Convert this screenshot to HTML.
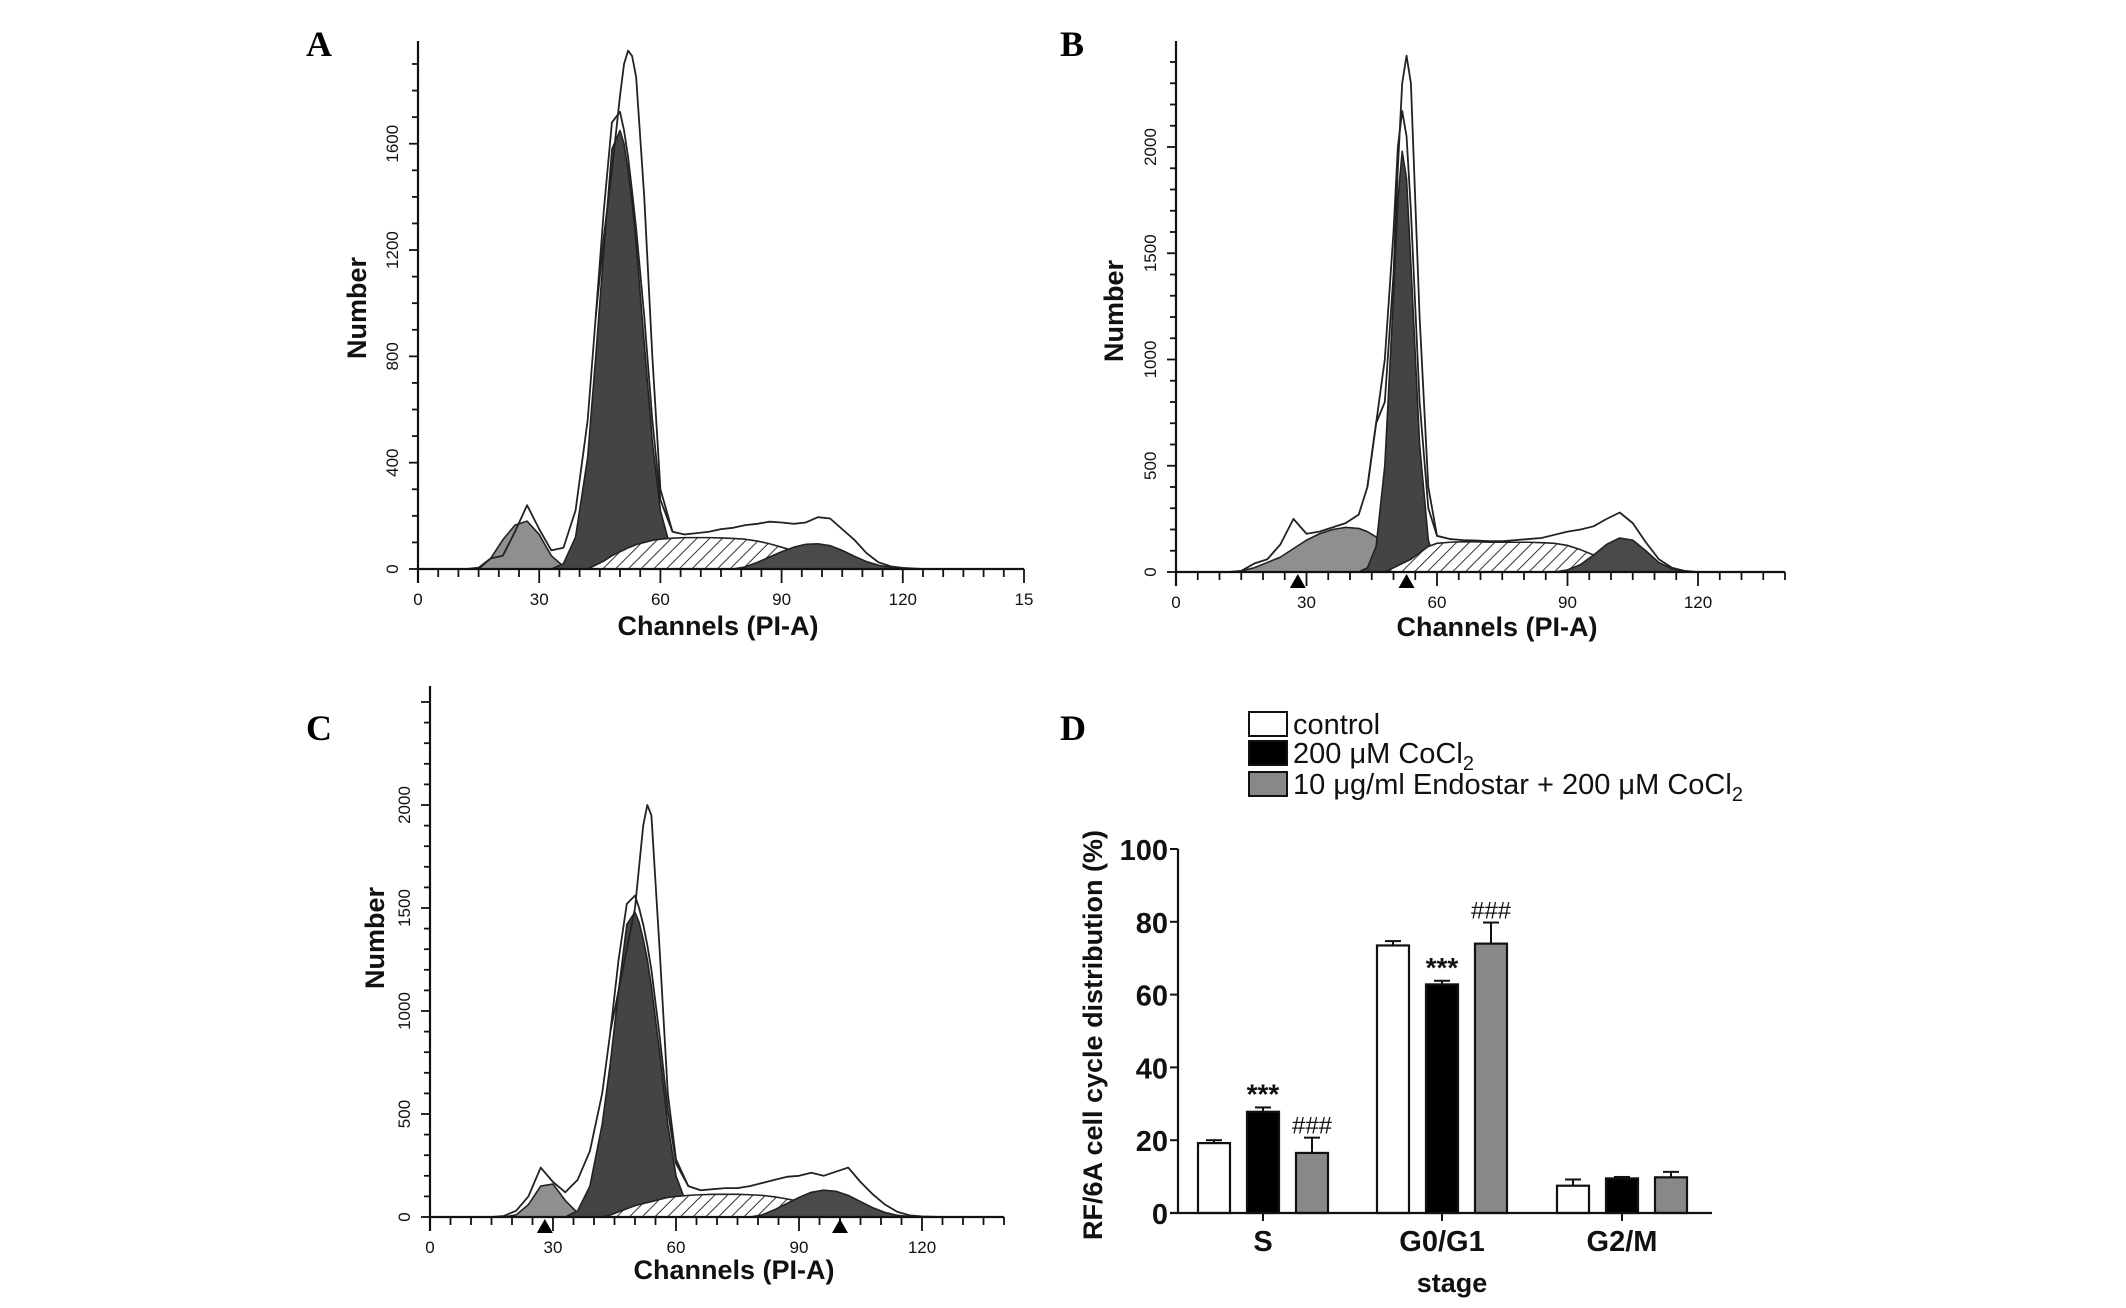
<!DOCTYPE html>
<html><head><meta charset="utf-8">
<style>
html,body{margin:0;padding:0;background:#fff;}
svg{display:block;}
text{font-family:"Liberation Sans",sans-serif;}
.lbl{font-family:"Liberation Serif",serif;font-weight:bold;font-size:36px;}
.tk{font-size:17px;fill:#111;}
.axt{font-weight:bold;font-size:27px;fill:#111;}
.dt{font-family:"Liberation Sans Narrow","Liberation Sans",sans-serif;font-weight:bold;font-size:29px;fill:#111;}
.lg{font-family:"Liberation Sans Narrow","Liberation Sans",sans-serif;font-size:29px;fill:#111;}
</style></head>
<body>
<svg id="fig" width="2126" height="1308" viewBox="0 0 2126 1308" xmlns="http://www.w3.org/2000/svg">
<defs>
<pattern id="hatch" patternUnits="userSpaceOnUse" width="9" height="9" patternTransform="rotate(45)">
<rect width="9" height="9" fill="#fff"/><line x1="0" y1="0" x2="0" y2="9" stroke="#333" stroke-width="2"/>
</pattern>
</defs>
<text class="lbl" x="306" y="56">A</text>
<text class="lbl" x="1060" y="56">B</text>
<text class="lbl" x="306" y="740">C</text>
<text class="lbl" x="1060" y="740">D</text>
<g id="pa"></g>
<g id="pb"></g>
<g id="pc"></g>
<g id="pd"></g>
</svg>
<script>
// shared channel grid
const channels = [12,15,18,21,24,27,30,33,36,39,42,44,46,48,50,51,52,53,54,56,58,60,63,66,69,72,75,78,81,84,87,90,93,96,99,102,105,108,111,114,117,120,125];
const peakChannels = [44,46,48,50,51,52,53,54,56,58,60,63];

// Panel A
const apoA = [0,0,40,110,165,180,130,50,10,0,0,0,0,0,0,0,0,0,0,0,0,0,0,0,0,0,0,0,0,0,0,0,0,0,0,0,0,0,0,0,0,0,0];
const g1A  = [0,0,0,0,0,0,0,0,20,120,420,800,1200,1580,1650,1600,1500,1380,1220,850,480,220,50,5,0,0,0,0,0,0,0,0,0,0,0,0,0,0,0,0,0,0,0];
const sA   = [0,0,0,0,0,0,0,0,0,0,0,15,30,50,65,72,80,85,92,100,108,112,116,118,118,118,117,115,112,105,95,82,68,52,38,25,14,6,2,0,0,0,0];
const g2A  = [0,0,0,0,0,0,0,0,0,0,0,0,0,0,0,0,0,0,0,0,0,0,0,0,0,0,0,0,8,25,45,65,82,93,95,88,70,48,28,14,6,2,0];
const outA = [0,5,40,50,140,240,150,70,80,220,560,950,1350,1680,1720,1650,1550,1420,1280,950,560,260,140,130,135,140,150,155,165,170,178,175,170,175,195,190,150,110,60,25,10,4,0];
const peakA = [950,1250,1500,1780,1900,1950,1930,1850,1400,800,300,140];

// Panel B
const apoB = [0,5,20,45,70,110,150,180,200,210,205,190,165,130,100,85,70,60,50,35,22,12,4,0,0,0,0,0,0,0,0,0,0,0,0,0,0,0,0,0,0,0,0];
const g1B  = [0,0,0,0,0,0,0,0,0,0,0,20,120,500,1300,1750,1980,1850,1450,600,150,20,0,0,0,0,0,0,0,0,0,0,0,0,0,0,0,0,0,0,0,0,0];
const sB   = [0,0,0,0,0,0,0,0,0,0,0,0,0,0,20,30,40,50,60,90,120,135,140,142,142,140,140,140,140,138,135,125,105,80,55,35,18,8,2,0,0,0,0];
const g2B  = [0,0,0,0,0,0,0,0,0,0,0,0,0,0,0,0,0,0,0,0,0,0,0,0,0,0,0,0,0,0,0,10,35,80,130,160,150,100,45,15,3,0,0];
const outB = [0,5,40,60,130,250,180,190,210,230,270,400,700,1000,1600,2000,2170,2050,1700,800,300,170,155,150,148,145,145,150,155,160,175,190,200,215,250,280,230,140,60,20,5,0,0];
const peakB = [400,700,800,1400,1900,2300,2430,2300,1200,400,170,155];

// Panel C
const apoC = [0,0,0,10,60,150,160,80,20,0,0,0,0,0,0,0,0,0,0,0,0,0,0,0,0,0,0,0,0,0,0,0,0,0,0,0,0,0,0,0,0,0,0];
const g1C  = [0,0,0,0,0,0,0,0,30,150,450,750,1100,1420,1480,1430,1350,1250,1120,800,450,200,40,5,0,0,0,0,0,0,0,0,0,0,0,0,0,0,0,0,0,0,0];
const sC   = [0,0,0,0,0,0,0,0,0,0,0,10,25,40,55,60,65,70,75,85,95,100,105,108,110,110,110,108,105,98,88,76,62,48,34,22,12,5,2,0,0,0,0];
const g2C  = [0,0,0,0,0,0,0,0,0,0,0,0,0,0,0,0,0,0,0,0,0,0,0,0,0,0,0,0,10,35,65,95,120,130,125,105,75,45,22,8,2,0,0];
const outC = [0,0,5,30,100,240,170,120,180,320,600,900,1250,1520,1560,1500,1420,1320,1200,880,520,260,150,130,135,140,140,150,165,180,195,200,215,200,220,240,170,110,60,25,8,3,0];
const peakC = [900,1100,1300,1500,1700,1900,2000,1950,1300,600,280,150];

// Panel D
const stages = ["S","G0/G1","G2/M"];
const controlVals = [19.2,73.5,7.5];
const cocl2Vals = [27.8,62.8,9.5];
const endoVals = [16.5,74.0,9.8];
const controlErr = [0.8,1.2,1.7];
const cocl2Err = [1.2,1.0,0.4];
const endoErr = [4.2,5.8,1.5];
const dTicks = [0,20,40,60,80,100];

const NS="http://www.w3.org/2000/svg";
function mk(parent,tag,attrs,txt){const e=document.createElementNS(NS,tag);for(const k in attrs)e.setAttribute(k,attrs[k]);if(txt!==undefined)e.textContent=txt;parent.appendChild(e);return e;}

function drawHist(g,cfg){
  const X=c=>cfg.x0+c*cfg.xs, Y=v=>cfg.y0-v*cfg.ys;
  const area=(vals,fill,name)=>{
    let d=`M${X(channels[0])},${Y(0)}`;
    channels.forEach((c,i)=>{d+=` L${X(c)},${Y(vals[i])}`;});
    d+=` L${X(channels[channels.length-1])},${Y(0)} Z`;
    const p=mk(g,'path',{d:d,fill:fill,stroke:'#222','stroke-width':1.6,'stroke-linejoin':'round'});
    
    
  };
  area(cfg.apo,'#8f8f8f','apoptotic-peak');
  area(cfg.g1,'#444','g0g1-peak');
  area(cfg.s,'url(#hatch)','s-phase-area');
  area(cfg.g2,'#4a4a4a','g2m-peak');
  let d='';channels.forEach((c,i)=>{d+=(i?' L':'M')+X(c)+','+Y(cfg.out[i]);});
  const o=mk(g,'path',{d:d,fill:'none',stroke:'#222','stroke-width':1.8,'stroke-linejoin':'round'});
  
  
  let d2='';peakChannels.forEach((c,i)=>{d2+=(i?' L':'M')+X(c)+','+Y(cfg.peak[i]);});
  const o2=mk(g,'path',{d:d2,fill:'none',stroke:'#222','stroke-width':1.8,'stroke-linejoin':'round'});
  
  
  const ya=mk(g,'line',{x1:cfg.x0,y1:cfg.top,x2:cfg.x0,y2:cfg.y0+14,stroke:'#111','stroke-width':2.2});
  
  
  const xa=mk(g,'line',{x1:cfg.x0,y1:cfg.y0,x2:X(cfg.xend),y2:cfg.y0,stroke:'#111','stroke-width':2.2});
  
  
  for(let v=0;Y(v)>=cfg.top;v+=cfg.yminor){const major=v%cfg.ymajor===0;mk(g,'line',{x1:cfg.x0-(major?9:6),y1:Y(v),x2:cfg.x0,y2:Y(v),stroke:'#111','stroke-width':1.8});}
  for(let c=0;c<=cfg.xend+0.01;c+=5){const major=c%30===0;mk(g,'line',{x1:X(c),y1:cfg.y0,x2:X(c),y2:cfg.y0+(major?14:8),stroke:'#111','stroke-width':1.8});}
  for(let v=0;Y(v)>=cfg.top+40;v+=cfg.ymajor){
    const t=mk(g,'text',{class:'tk',x:cfg.x0-20,y:Y(v),'text-anchor':'middle',transform:`rotate(-90 ${cfg.x0-20} ${Y(v)})`},String(v));
    
    
  }
  cfg.xlabels.forEach(c=>{
    const t=mk(g,'text',{class:'tk',x:X(c),y:cfg.y0+36,'text-anchor':'middle','font-size':'19'},c===150?'15':String(c));
    
    
  });
  cfg.tri.forEach(c=>{
    const t=mk(g,'path',{d:`M${X(c)-8},${cfg.y0+16} L${X(c)+8},${cfg.y0+16} L${X(c)},${cfg.y0+2} Z`,fill:'#000'});
    
    
  });
  const yt=mk(g,'text',{class:'axt',x:cfg.ytx,y:cfg.yty,'text-anchor':'middle',transform:`rotate(-90 ${cfg.ytx} ${cfg.yty})`},'Number');
  
  
  const xt=mk(g,'text',{class:'axt',x:cfg.xtx,y:cfg.xty,'text-anchor':'middle'},'Channels (PI-A)');
  
  
}

drawHist(document.getElementById('pa'),{x0:418,xs:4.04,y0:569,ys:0.2658,top:41,xend:150,ymajor:400,yminor:100,
  apo:apoA,g1:g1A,s:sA,g2:g2A,out:outA,peak:peakA,xlabels:[0,30,60,90,120,150],tri:[],ytx:366,yty:308,xtx:718,xty:635});
drawHist(document.getElementById('pb'),{x0:1176,xs:4.35,y0:572,ys:0.2125,top:41,xend:140,ymajor:500,yminor:100,
  apo:apoB,g1:g1B,s:sB,g2:g2B,out:outB,peak:peakB,xlabels:[0,30,60,90,120],tri:[28,53],ytx:1123,yty:311,xtx:1497,xty:636});
drawHist(document.getElementById('pc'),{x0:430,xs:4.1,y0:1217,ys:0.206,top:686,xend:140,ymajor:500,yminor:100,
  apo:apoC,g1:g1C,s:sC,g2:g2C,out:outC,peak:peakC,xlabels:[0,30,60,90,120],tri:[28,100],ytx:384,yty:938,xtx:734,xty:1279});

// Panel D
(function(){
  const g=document.getElementById('pd');
  const x0=1178,y0=1213,ys=3.64,xend=1712;
  const centers=[1263,1442,1622];
  const Y=v=>y0-v*ys;
  const series=[[controlVals,controlErr,'#fff','control'],[cocl2Vals,cocl2Err,'#000','cocl2'],[endoVals,endoErr,'#888','endostar']];
  series.forEach((s,si)=>{
    stages.forEach((st,i)=>{
      const cx=centers[i]+(si-1)*49, w=32, v=s[0][i], e=s[1][i];
      const ln=mk(g,'line',{x1:cx,y1:Y(v),x2:cx,y2:Y(v+e),stroke:'#111','stroke-width':2});
      
      
      mk(g,'line',{x1:cx-8,y1:Y(v+e),x2:cx+8,y2:Y(v+e),stroke:'#111','stroke-width':2});
      const r=mk(g,'rect',{x:cx-w/2,y:Y(v),width:w,height:v*ys,fill:s[2],stroke:'#111','stroke-width':2.2});
      
      
    });
  });
  const ya=mk(g,'line',{x1:x0,y1:Y(100),x2:x0,y2:y0,stroke:'#111','stroke-width':2.2});
  
  
  const xa=mk(g,'line',{x1:x0-8,y1:y0,x2:xend,y2:y0,stroke:'#111','stroke-width':2.2});
  
  
  dTicks.forEach(v=>{
    mk(g,'line',{x1:x0-8,y1:Y(v),x2:x0,y2:Y(v),stroke:'#111','stroke-width':2});
    const t=mk(g,'text',{class:'dt',x:x0-10,y:Y(v)+11,'text-anchor':'end'},String(v));
    
    
  });
  stages.forEach((st,i)=>{
    mk(g,'line',{x1:centers[i],y1:y0,x2:centers[i],y2:y0+8,stroke:'#111','stroke-width':2});
    const t=mk(g,'text',{class:'dt',x:centers[i],y:y0+38,'text-anchor':'middle'},st);
    
    
  });
  const sig=[[cocl2Vals[0]+cocl2Err[0],centers[0],'***'],[endoVals[0]+endoErr[0],centers[0]+49,'###'],[cocl2Vals[1]+cocl2Err[1],centers[1],'***'],[endoVals[1]+endoErr[1],centers[1]+49,'###']];
  sig.forEach(s=>{
    const t=mk(g,'text',{x:s[1],y:Y(s[0])-4,'text-anchor':'middle','font-size':(s[2]==='***'?'28':'24'),'font-family':'Liberation Sans, sans-serif','font-weight':(s[2]==='***'?'bold':'normal'),fill:'#111'},s[2]);
    
    
  });
  const xt=mk(g,'text',{class:'axt',x:1452,y:1292,'text-anchor':'middle','font-size':'29'},'stage');
  
  
  const yt=mk(g,'text',{class:'axt',x:1102,y:1035,'text-anchor':'middle','font-size':'28',transform:'rotate(-90 1102 1035)'},'RF/6A cell cycle distribution (%)');
  
  
  const leg=[['#fff','control',712],['#000','200 μM CoCl',741],['#888','10 μg/ml Endostar + 200 μM CoCl',772]];
  leg.forEach((l,i)=>{
    const r=mk(g,'rect',{x:1249,y:l[2],width:38,height:24,fill:l[0],stroke:'#111','stroke-width':2});
    
    
    const t=mk(g,'text',{class:'lg',x:1293,y:l[2]+22},l[1]);
    
    
    if(i>0){mk(t,'tspan',{'font-size':'20',dy:'7'},'2');}
  });
})();
</script>
</body></html>
